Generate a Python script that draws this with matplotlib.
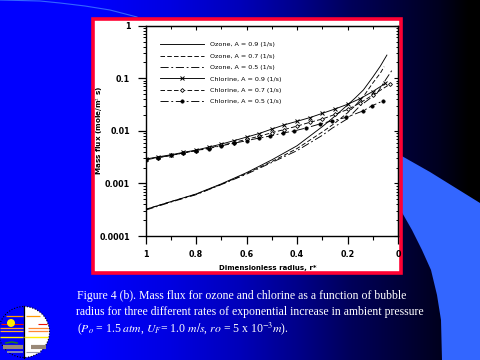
import numpy as np
import matplotlib
matplotlib.use("Agg")
import matplotlib.pyplot as plt
from matplotlib.patches import Polygon, Rectangle, Circle, Wedge

r_ozone = [1, .9, .8, .7, .6, .5, .4, .3, .25, .2, .17, .137, .1, .07, .055]
ozone_09 = [.00032, .00045, .00063, .00098, .0016, .0028, .0052, .012, .019, .031, .042, .06, .105, .17, .225]
ozone_07 = [.00032, .00045, .00062, .00096, .00155, .0026, .0046, .0095, .014, .022, .03, .045, .081, .125, .166]
r_ozone_09_end = [.044]
ozone_09_end = [.276]
r_ozone_05 = [1, .9, .8, .7, .6, .5, .4, .3, .26, .2, .15, .083, .045, .023]
ozone_05 = [.00031, .00044, .00061, .00095, .0015, .0025, .0042, .0082, .0113, .017, .03, .052, .1, .144]

r_cl_09 = [1, .95, .9, .85, .8, .75, .7, .65, .6, .55, .5, .45, .4, .35, .3, .25, .2, .15, .1, .05]
cl_09 = [.0029, .0032, .0035, .0039, .0043, .0049, .0056, .0065, .0076, .0089, .0108, .013, .0152, .0178,
         .0215, .026, .032, .041, .056, .08]
r_cl_07 = [1, .95, .9, .85, .8, .75, .7, .65, .6, .55, .5, .45, .4, .35, .3, .25, .2, .15, .1, .03]
cl_07 = [.0029, .0031, .0034, .0038, .0042, .0047, .0053, .006, .0069, .0079, .0092, .0106, .0123, .0145,
         .0168, .0205, .0255, .034, .048, .078]
r_cl_05 = [1, .95, .9, .85, .8, .75, .7, .65, .6, .55, .505, .455, .41, .365, .31, .26, .206, .138, .103, .06]
cl_05 = [.0028, .0031, .0034, .0038, .0042, .0046, .0052, .0058, .0065, .0073, .008, .0091, .01, .0113,
         .0135, .0155, .018, .024, .03, .037]

x_ticks = [1, .8, .6, .4, .2, 0]
x_labels = ["1", "0.8", "0.6", "0.4", "0.2", "0"]
y_ticks = [1, .1, .01, .001, .0001]
y_labels = ["1", "0.1", "0.01", "0.001", "0.0001"]

W, H = 480, 360
fig = plt.figure(figsize=(4.8, 3.6), dpi=100)
bg = fig.add_axes([0, 0, 1, 1])
bg.set_xlim(0, W); bg.set_ylim(H, 0); bg.axis("off")

# background gradient
stops_x = [0, 90, 170, 240, 300, 350, 410, 440, 468, 480]
stops_b = [255, 255, 225, 185, 135, 90, 50, 30, 0, 0]
blue = np.interp(np.arange(W), stops_x, stops_b) / 255
grad = np.zeros((1, W, 3)); grad[0, :, 2] = blue
bg.imshow(grad, extent=[0, W, H, 0], aspect="auto", interpolation="nearest", zorder=0)
bg.set_xlim(0, W); bg.set_ylim(H, 0)

LIGHT = "#3366ff"
bg.add_patch(Polygon([(400, 155), (430, 172), (480, 203), (480, 360), (442, 360), (441, 320), (437, 295),
                      (431, 270), (422, 250), (412, 230), (400, 209)], closed=True, fc=LIGHT, ec="none", zorder=1))
bg.plot([0, 40, 60, 85, 110, 137], [0, 1, 3, 6, 10, 17], color=LIGHT, lw=0.8, zorder=1)

# frame
bg.add_patch(Rectangle((93, 19), 308, 254, fc="white", ec="#ff0033", lw=2.6, zorder=2))

# logo
bg.add_patch(Wedge((24, 332), 25.5, -90, 90, fc="white", ec="none", zorder=3))
bg.add_patch(Circle((24, 332), 25.5, fc="none", ec="black", lw=0.8, ls=(0, (1, 1.5)), zorder=4))
bg.plot([24, 24], [306, 358], color="black", lw=0.9, zorder=4)
bg.add_patch(Circle((11, 323), 4, fc="#ffee00", ec="none", zorder=5))
for x0, x1, yy, c, lw in [(6, 23, 315.5, "#ff9900", 0.9), (26, 40, 315.5, "#ff9900", 0.9),
                          (1, 23, 324, "#ee1100", 0.8), (38, 47, 324, "#ee1100", 0.8),
                          (0, 23, 328, "#ff9933", 0.9), (28, 48, 328, "#ff8833", 0.9),
                          (0, 23, 331, "#ffaa33", 0.9), (28, 48, 331, "#ff8833", 0.9),
                          (0, 23, 336.5, "#ffee00", 1.0), (24, 48, 336.5, "#ffee00", 1.0),
                          (3, 23, 347, "#998877", 3.0), (31, 46, 347, "#998877", 3.0),
                          (7, 23, 352, "#9999aa", 1.2), (26, 40, 352, "#9999aa", 0.8)]:
    bg.plot([x0, x1], [yy, yy], color=c, lw=lw, solid_capstyle="butt", zorder=4)
bg.plot([6, 12, 17], [343, 342, 343], color="#227722", lw=1.2, zorder=4)

# caption
serif = "Liberation Serif"
plt.rcParams["mathtext.fontset"] = "stix"
cap = dict(color="white", family=serif, fontsize=8.45, va="center", ha="left", zorder=5)
bg.text(77, 296, "Figure 4 (b). Mass flux for ozone and chlorine as a function of bubble", **cap)
bg.text(76, 312, "radius for three different rates of exponential increase in ambient pressure", **cap)
bg.text(77, 329, r"($P_o$ = 1.5 $atm$, $U_F$= 1.0 $m/s$, $ro$ = 5 x 10$^{-3}$$m$).", **cap)

# chart
L, R, T, B = 145.5, 398, 25.7, 236
ax = fig.add_axes([L / W, 1 - B / H, (R - L) / W, (B - T) / H])
ax.set_facecolor("white")
sty = dict(color="black", lw=0.65)
dash = (0, (5, 2.5))
dashdot = (0, (9, 3, 2, 3))
ax.plot(r_ozone + r_ozone_09_end, ozone_09 + ozone_09_end, ls="-", label="Ozone, A = 0.9 (1/s)", **sty)
ax.plot(r_ozone, ozone_07, ls=dash, label="Ozone, A = 0.7 (1/s)", **sty)
ax.plot(r_ozone_05, ozone_05, ls=dashdot, label="Ozone, A = 0.5 (1/s)", **sty)
ax.plot(r_cl_09, cl_09, ls="-", marker="x", ms=3.0, mew=0.7, label="Chlorine, A = 0.9 (1/s)", **sty)
ax.plot(r_cl_07, cl_07, ls=dash, marker="D", ms=2.0, mew=0.6, mfc="white", label="Chlorine, A = 0.7 (1/s)", **sty)
ax.plot(r_cl_05, cl_05, ls=dashdot, marker="o", ms=2.4, mew=0.5, label="Chlorine, A = 0.5 (1/s)", **sty)

ax.set_xlim(1, 0)
ax.set_yscale("log")
ax.set_ylim(.0001, 1)
ax.set_xticks(x_ticks); ax.set_xticklabels(x_labels)
ax.set_xticks([.9, .7, .5, .3, .1], minor=True)
ax.set_yticks(y_ticks); ax.set_yticklabels(y_labels)
ax.yaxis.set_minor_locator(matplotlib.ticker.LogLocator(base=10, subs=np.arange(2, 10) / 1, numticks=12))
ax.yaxis.set_minor_formatter(matplotlib.ticker.NullFormatter())
ax.tick_params(axis="x", which="major", direction="out", length=6, width=0.9, pad=4, labelsize=5.8)
ax.tick_params(axis="x", which="minor", direction="out", length=3, width=0.8)
ax.tick_params(axis="y", which="major", direction="out", length=6, width=0.9, pad=5, labelsize=5.8)
ax.tick_params(axis="y", which="minor", direction="out", length=2.5, width=0.7)
for t in ax.get_xticklabels() + ax.get_yticklabels():
    t.set_fontweight("bold")
for s in ax.spines.values():
    s.set_linewidth(1.0)

# inward ticks on the opposite sides
top = ax.secondary_xaxis("top")
top.set_xticks(x_ticks); top.set_xticklabels([])
top.set_xticks([.9, .7, .5, .3, .1], minor=True)
top.tick_params(axis="x", which="major", direction="in", length=3, width=0.8)
top.tick_params(axis="x", which="minor", direction="in", length=1.8, width=0.7)
right = ax.secondary_yaxis("right")
right.set_yticks(y_ticks); right.set_yticklabels([])
right.yaxis.set_minor_locator(matplotlib.ticker.LogLocator(base=10, subs=np.arange(2, 10) / 1, numticks=12))
right.yaxis.set_minor_formatter(matplotlib.ticker.NullFormatter())
right.tick_params(axis="y", which="major", direction="in", length=3, width=0.8)
right.tick_params(axis="y", which="minor", direction="in", length=1.8, width=0.7)

leg = ax.legend(loc="upper left", bbox_to_anchor=((160 - L) / (R - L), 1 - (42 - T) / (B - T)),
                frameon=False, numpoints=1, fontsize=4.6, handlelength=6.9, handletextpad=1.0,
                labelspacing=0.92, borderaxespad=0, borderpad=0)

bg.text(268, 268, "Dimensionless radius, r*", ha="center", va="center", fontsize=5.0, fontweight="bold",
        family="DejaVu Sans", color="black", zorder=5)
bg.text(100, 130, r"Mass flux (mole/m$^2$ s)", rotation=90, ha="center", va="center", fontsize=5.2,
        fontweight="bold", family="DejaVu Sans", color="black", zorder=5)

fig.savefig("out.png", dpi=100)
